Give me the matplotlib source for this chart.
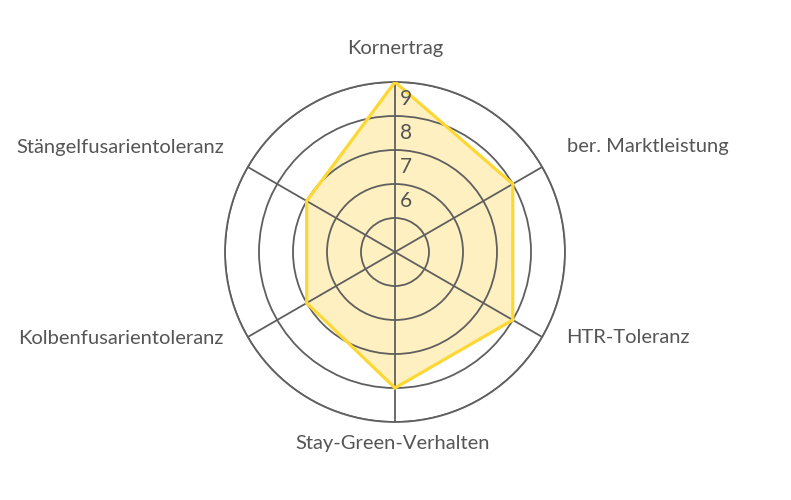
import numpy as np
import matplotlib
matplotlib.use("Agg")
import matplotlib.pyplot as plt

categories = ["Kornertrag", "ber. Marktleistung", "HTR-Toleranz",
              "Stay-Green-Verhalten", "Kolbenfusarientoleranz", "Stängelfusarientoleranz"]
values = [9, 8, 8, 8, 7, 7]
rings = [5, 6, 7, 8, 9]
ring_labels = ["6", "7", "8", "9"]

grid_col = "#5f5f5f"
text_col = "#555555"
line_col = "#fdd835"
fill_col = "#fef0c0"

plt.rcParams["font.family"] = ["Lato", "DejaVu Sans"]

W, H = 791, 500
fig = plt.figure(figsize=(W / 100, H / 100), dpi=100)
cx, cy, R = 395, 252, 170
ax = fig.add_axes([(cx - R) / W, (H - cy - R) / H, 2 * R / W, 2 * R / H], projection="polar")

ax.set_theta_offset(np.pi / 2)
ax.set_theta_direction(-1)
ax.set_ylim(4, 9)

angles = np.linspace(0, 2 * np.pi, len(categories), endpoint=False)
a_closed = np.append(angles, angles[0])
v_closed = np.append(values, values[0])

ax.fill(a_closed, v_closed, color=fill_col, zorder=1)
ax.plot(a_closed, v_closed, color=line_col, lw=2.3, zorder=3, solid_joinstyle="miter")

ax.set_thetagrids(np.degrees(angles), labels=[])
ax.set_rgrids(rings, labels=[])
ax.grid(True, color=grid_col, lw=1.3)
ax.spines["polar"].set_color(grid_col)
ax.spines["polar"].set_linewidth(1.3)
ax.tick_params(length=0)

# ring labels sit just inside each circle, right of the top spoke
for i, lab in enumerate(ring_labels):
    ax.annotate(lab, xy=(0, rings[i + 1] - 0.5), xytext=(11, 0), textcoords="offset pixels",
                ha="center", va="center", fontsize=15, color=text_col, zorder=4)

offsets = [(0, 33), (25, 20), (24, -1), (-2, -21), (-24, -1), (-24, 20)]
aligns = ["center", "left", "left", "center", "right", "right"]
for a, name, off, al in zip(angles, categories, offsets, aligns):
    ax.annotate(name, xy=(a, 9), xytext=off, textcoords="offset pixels",
                ha=al, va="center", fontsize=14.5, color=text_col, annotation_clip=False)

fig.savefig("out.png", dpi=100, facecolor="white")
